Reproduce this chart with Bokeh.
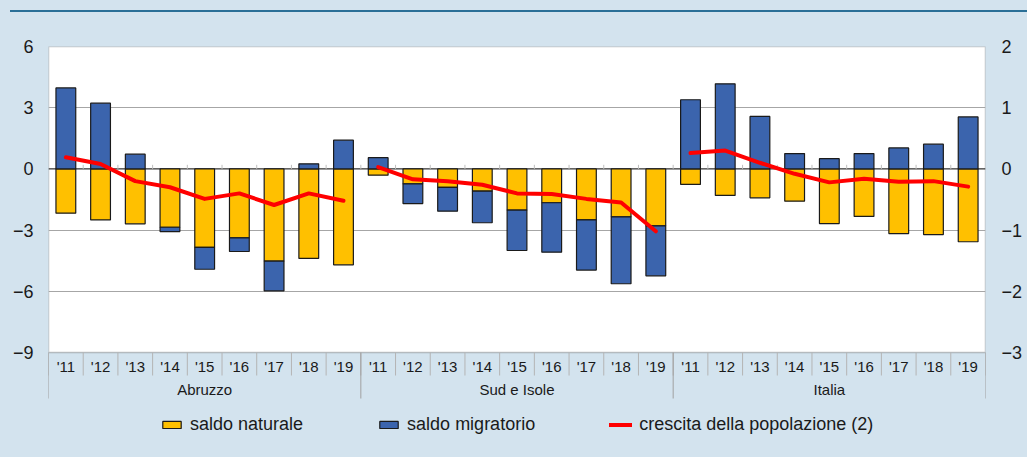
from bokeh.plotting import figure
from bokeh.models import (FactorRange, Range1d, LinearAxis, FixedTicker, BoxAnnotation,
                          Span, Legend, LegendItem, ColumnDataSource, Div)
from bokeh.layouts import column
from bokeh.core.properties import value
from bokeh.embed import file_html
from bokeh.resources import INLINE

# ---------------- data ----------------
groups = ["Abruzzo", "Sud e Isole", "Italia"]
years = ["'11", "'12", "'13", "'14", "'15", "'16", "'17", "'18", "'19"]

saldo_naturale_abruzzo = [-2.17, -2.50, -2.69, -2.86, -3.85, -3.38, -4.52, -4.39, -4.70]
saldo_naturale_sud = [-0.31, -0.73, -0.91, -1.09, -2.02, -1.66, -2.50, -2.35, -2.79]
saldo_naturale_italia = [-0.76, -1.30, -1.42, -1.58, -2.68, -2.33, -3.17, -3.22, -3.57]

saldo_migratorio_abruzzo = [3.97, 3.22, 0.72, -0.21, -1.07, -0.67, -1.46, 0.25, 1.41]
saldo_migratorio_sud = [0.55, -0.97, -1.16, -1.55, -1.98, -2.42, -2.46, -3.28, -2.45]
saldo_migratorio_italia = [3.39, 4.17, 2.57, 0.75, 0.50, 0.75, 1.03, 1.21, 2.55]

crescita_abruzzo = [0.19, 0.08, -0.20, -0.30, -0.49, -0.40, -0.59, -0.40, -0.52]
crescita_sud = [0.03, -0.17, -0.20, -0.26, -0.40, -0.41, -0.49, -0.55, -1.02]
crescita_italia = [0.26, 0.30, 0.10, -0.08, -0.22, -0.16, -0.21, -0.20, -0.29]

left_ticks = [-9, -6, -3, 0, 3, 6]
right_ticks = [-3, -2, -1, 0, 1, 2]

# ---------------- style ----------------
BG = "#D3E3EE"
YELLOW = "#FFC000"
BLUE = "#3B64AD"
RED = "#FF0000"
TXT = "#1a1a1a"
FONT = "Liberation Sans"

naturale = [saldo_naturale_abruzzo, saldo_naturale_sud, saldo_naturale_italia]
migratorio = [saldo_migratorio_abruzzo, saldo_migratorio_sud, saldo_migratorio_italia]
crescita = [crescita_abruzzo, crescita_sud, crescita_italia]

factors = [(g, y) for g in groups for y in years]
nat_all = [v for lst in naturale for v in lst]
mig_all = [v for lst in migratorio for v in lst]
mig_bottom = [0 if m >= 0 else n for n, m in zip(nat_all, mig_all)]
mig_top = [m if m >= 0 else n + m for n, m in zip(nat_all, mig_all)]

PX_PER_UNIT = 306 / 15.0
FRAME_H = 411
YMIN = 6 - FRAME_H / PX_PER_UNIT

p = figure(x_range=FactorRange(factors=factors, group_padding=0, subgroup_padding=0,
                               factor_padding=0, range_padding=0),
           y_range=Range1d(YMIN, 6),
           frame_width=937, frame_height=FRAME_H,
           min_border_left=48, min_border_right=42, min_border_top=12, min_border_bottom=0,
           x_axis_location=None, toolbar_location=None, output_backend="svg",
           background_fill_color=None, border_fill_color=None, outline_line_color=None,
           styles={"background-color": BG})

p.extra_y_ranges = {"right": Range1d(YMIN / 3.0, 2)}

# white plotting box
p.add_layout(BoxAnnotation(bottom=-9, top=6, fill_color="white", fill_alpha=1,
                           line_color="#3a3a3a", line_width=1.5, level="image"))

# grid
p.xgrid.visible = False
p.ygrid.ticker = FixedTicker(ticks=[-6, -3, 3])
p.ygrid.grid_line_color = "#A6A6A6"
p.ygrid.grid_line_width = 1

# axes
def style_axis(ax, standoff):
    ax.axis_line_color = None
    ax.major_tick_line_color = None
    ax.minor_tick_line_color = None
    ax.major_tick_out = 0
    ax.major_tick_in = 0
    ax.major_label_standoff = standoff
    ax.major_label_text_font = FONT
    ax.major_label_text_font_size = "18px"
    ax.major_label_text_color = TXT

yl = p.yaxis[0]
yl.ticker = FixedTicker(ticks=left_ticks)
style_axis(yl, 15)

yr = LinearAxis(y_range_name="right", ticker=FixedTicker(ticks=right_ticks))
style_axis(yr, 16)
p.add_layout(yr, "right")

# zero line
p.add_layout(Span(location=0, dimension="width", line_color="black", line_width=1,
                  level="underlay"))

# small ticks at zero line between categories
bounds = [(g, y, -0.5) for (g, y) in factors] + [(factors[-1][0], factors[-1][1], 0.5)]
p.segment(x0=bounds[1:-1], y0=[0] * (len(bounds) - 2), x1=bounds[1:-1],
          y1=[0.2] * (len(bounds) - 2), line_color="#BFBFBF", line_width=1)

# bars
src = ColumnDataSource(dict(x=factors, nat=nat_all, zero=[0] * len(factors),
                            mb=mig_bottom, mt=mig_top))
r_nat = p.vbar(x="x", bottom="nat", top="zero", width=0.57, source=src,
               fill_color=YELLOW, line_color="#1a1a1a", line_width=1.2)
r_mig = p.vbar(x="x", bottom="mb", top="mt", width=0.57, source=src,
               fill_color=BLUE, line_color="#1a1a1a", line_width=1.2)

# population growth lines (right axis), one per group
r_line = None
for g, vals in zip(groups, crescita):
    r = p.line(x=[(g, y) for y in years], y=vals, y_range_name="right",
               line_color=RED, line_width=4, line_cap="round", line_join="round")
    if r_line is None:
        r_line = r

# category axis drawn below the box
YEAR_LBL_Y = -9 - 13.5 / PX_PER_UNIT
GROUP_LBL_Y = -9 - 37 / PX_PER_UNIT
YEAR_SEP_Y = -9 - 23 / PX_PER_UNIT
GROUP_SEP_Y = -9 - 46 / PX_PER_UNIT

p.segment(x0=bounds, y0=[-9] * len(bounds), x1=bounds, y1=[YEAR_SEP_Y] * len(bounds),
          line_color="#B4B4B4", line_width=1)
gbounds = [(g, years[0], -0.5) for g in groups] + [(groups[-1], years[-1], 0.5)]
p.segment(x0=gbounds, y0=[-9] * len(gbounds), x1=gbounds, y1=[GROUP_SEP_Y] * len(gbounds),
          line_color="#A0A0A0", line_width=1)

p.text(x=factors, y=[YEAR_LBL_Y] * len(factors), text=[y for (_, y) in factors],
       text_align="center", text_baseline="middle", text_font=value(FONT),
       text_font_size="15px", text_color=TXT)
p.text(x=[(g, years[4]) for g in groups], y=[GROUP_LBL_Y] * len(groups), text=groups,
       text_align="center", text_baseline="middle", text_font=value(FONT),
       text_font_size="15px", text_color=TXT)

# legend
legend = Legend(items=[LegendItem(label="saldo naturale", renderers=[r_nat]),
                       LegendItem(label="saldo migratorio", renderers=[r_mig]),
                       LegendItem(label="crescita della popolazione (2)", renderers=[r_line])],
                orientation="horizontal", location=(112, 22),
                background_fill_alpha=0, border_line_color=None, padding=0, margin=0,
                spacing=74, label_standoff=7, glyph_width=23, glyph_height=9,
                label_height=18, label_text_font=FONT, label_text_font_size="18px",
                label_text_color=TXT, label_text_baseline="middle")
p.add_layout(legend)

top = Div(text="", width=1027, height=34, margin=0,
          styles={"background": "linear-gradient(#2A6F97, #2A6F97) 10px 10px / 100% 2px no-repeat, " + BG})

layout = column(top, p, spacing=0, styles={"background-color": BG})
open("out.html", "w").write(file_html(layout, INLINE))
